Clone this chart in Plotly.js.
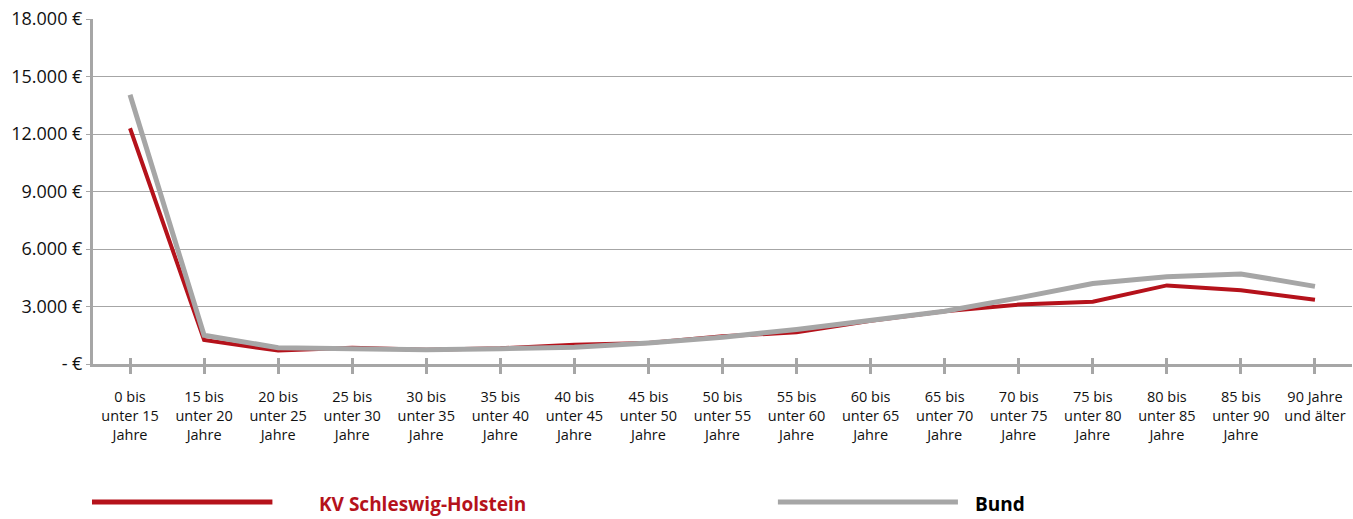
<!DOCTYPE html>
<html>
<head>
<meta charset="utf-8">
<script src="https://cdn.plot.ly/plotly-3.0.1.min.js"></script>
<style>
html,body{margin:0;padding:0;background:#fff;}
#chart{width:1353px;height:519px;}
</style>
</head>
<body>
<div id="chart"></div>
<script>
const categories = [
  "0 bis<br>unter 15<br>Jahre", "15 bis<br>unter 20<br>Jahre", "20 bis<br>unter 25<br>Jahre",
  "25 bis<br>unter 30<br>Jahre", "30 bis<br>unter 35<br>Jahre", "35 bis<br>unter 40<br>Jahre",
  "40 bis<br>unter 45<br>Jahre", "45 bis<br>unter 50<br>Jahre", "50 bis<br>unter 55<br>Jahre",
  "55 bis<br>unter 60<br>Jahre", "60 bis<br>unter 65<br>Jahre", "65 bis<br>unter 70<br>Jahre",
  "70 bis<br>unter 75<br>Jahre", "75 bis<br>unter 80<br>Jahre", "80 bis<br>unter 85<br>Jahre",
  "85 bis<br>unter 90<br>Jahre", "90 Jahre<br>und älter"
];
const kvSH = [12300, 1250, 700, 850, 750, 820, 1000, 1100, 1450, 1650, 2250, 2750, 3100, 3250, 4100, 3850, 3350];
const bund = [14050, 1500, 850, 800, 750, 800, 880, 1100, 1400, 1800, 2250, 2750, 3450, 4200, 4550, 4700, 4050];
const yTickVals = [0, 3000, 6000, 9000, 12000, 15000, 18000];
const yTickText = ["- €", "3.000 €", "6.000 €", "9.000 €", "12.000 €", "15.000 €", "18.000 €"];
const seriesNames = ["KV Schleswig-Holstein", "Bund"];

const RED = "#b5121b";
const GRAY = "#a6a6a6";
const FONT = "Open Sans, Noto Sans, sans-serif";

const traces = [
  {x: categories, y: kvSH, type: "scatter", mode: "lines", name: seriesNames[0],
   line: {color: RED, width: 4}, showlegend: false},
  {x: categories, y: bund, type: "scatter", mode: "lines", name: seriesNames[1],
   line: {color: GRAY, width: 5}, showlegend: false},
  {x: categories, y: bund, type: "scatter", mode: "lines", xaxis: "x2",
   line: {width: 0}, hoverinfo: "skip", showlegend: false, opacity: 0}
];

const layout = {
  width: 1353, height: 519,
  margin: {l: 93, r: 1, t: 19, b: 155},
  paper_bgcolor: "#fff", plot_bgcolor: "#fff",
  font: {family: FONT, color: "#111"},
  xaxis: {
    type: "category", range: [-0.5, 16.5],
    showgrid: false, showline: true, linecolor: GRAY, linewidth: 3,
    ticks: "outside", ticklen: 7, tickwidth: 3, tickcolor: GRAY,
    ticklabelstandoff: 11,
    tickfont: {size: 14.5, family: FONT, color: "#111"},
    tickangle: 0, fixedrange: true
  },
  xaxis2: {
    type: "category", range: [-0.5, 16.5], overlaying: "x", anchor: "y", side: "bottom",
    showgrid: false, showline: false, showticklabels: false,
    ticks: "inside", ticklen: 6, tickwidth: 3, tickcolor: GRAY
  },
  yaxis: {
    range: [0, 18000], tickvals: yTickVals, ticktext: yTickText,
    showgrid: true, gridcolor: GRAY, gridwidth: 1,
    showline: true, linecolor: GRAY, linewidth: 3,
    ticks: "outside", ticklen: 4, tickwidth: 1, tickcolor: GRAY,
    tickfont: {size: 18, family: FONT, color: "#111"},
    zeroline: false, fixedrange: true
  },
  shapes: [
    {type: "line", xref: "paper", yref: "paper", x0: -0.0008, x1: 0.1425, y0: -0.40, y1: -0.40,
     line: {color: RED, width: 5}},
    {type: "line", xref: "paper", yref: "paper", x0: 0.544, x1: 0.687, y0: -0.40, y1: -0.40,
     line: {color: GRAY, width: 5}}
  ],
  annotations: [
    {xref: "paper", yref: "paper", x: 0.178, y: -0.405, xanchor: "left", yanchor: "middle",
     text: "<b>" + seriesNames[0] + "</b>", showarrow: false,
     font: {family: "Open Sans, sans-serif", size: 19, color: RED}},
    {xref: "paper", yref: "paper", x: 0.699, y: -0.405, xanchor: "left", yanchor: "middle",
     text: "<b>" + seriesNames[1] + "</b>", showarrow: false,
     font: {family: "Open Sans, sans-serif", size: 19, color: "#000"}}
  ]
};

Plotly.newPlot("chart", traces, layout, {displayModeBar: false, staticPlot: true});
</script>
</body>
</html>
